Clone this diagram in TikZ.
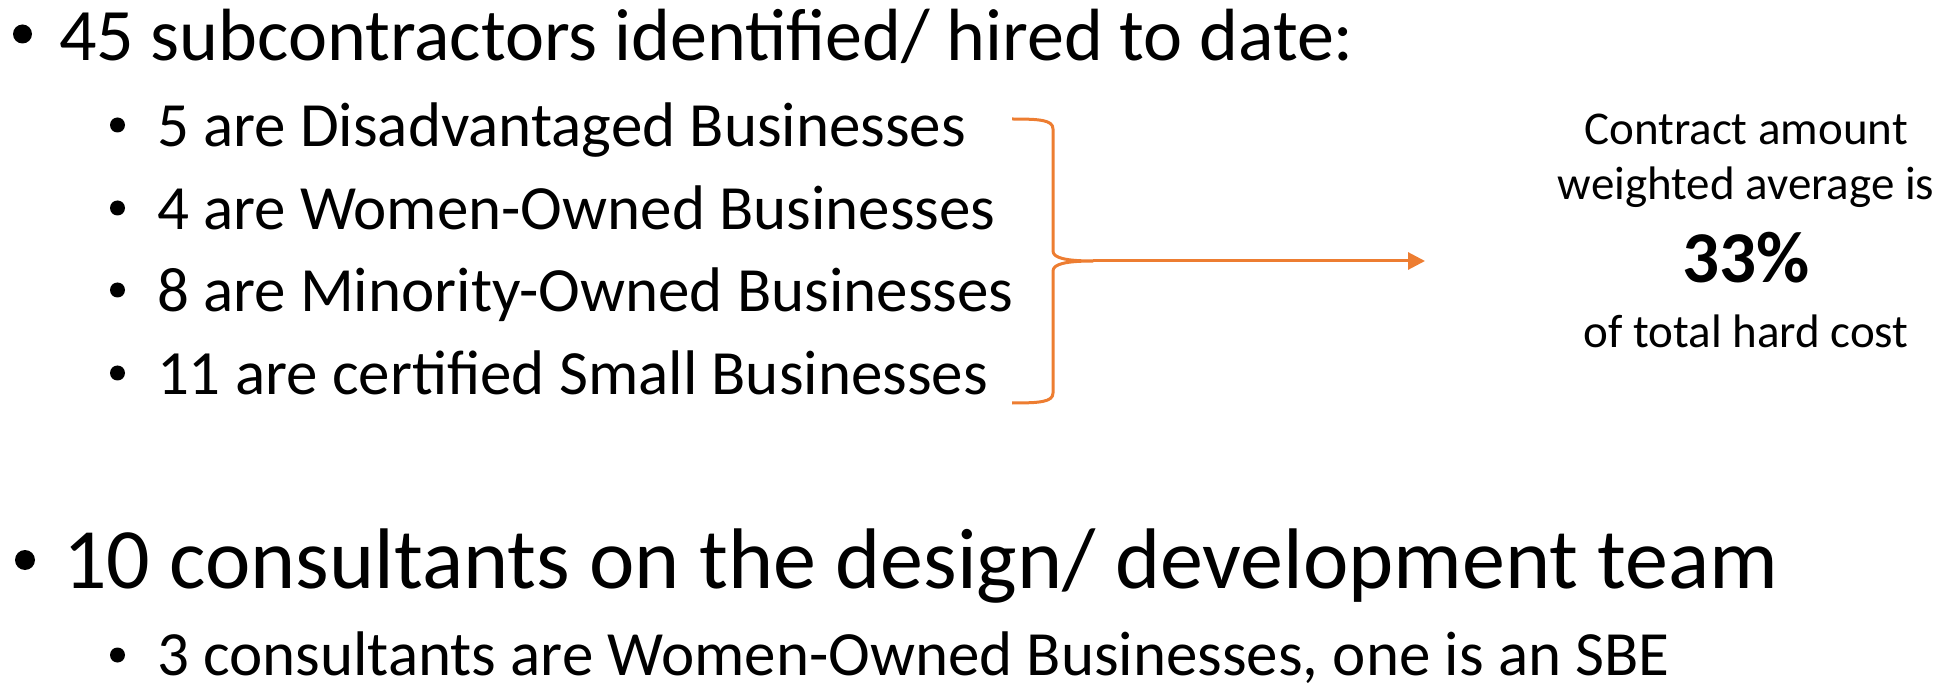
\documentclass[tikz,border=0pt]{standalone}
\usepackage{fontspec}
\setmainfont{Carlito}
\usetikzlibrary{arrows.meta}
\definecolor{accent}{HTML}{ED7D31}
\tikzset{
  txt/.style={anchor=base west, inner sep=0pt, outer sep=0pt},
  ctr/.style={anchor=base, inner sep=0pt, outer sep=0pt},
  lvlone/.style={txt, font=\fontsize{74}{80}\selectfont},
  lvlsub/.style={txt, font=\fontsize{63}{70}\selectfont},
  lvltwo/.style={txt, font=\fontsize{86}{92}\selectfont},
  side/.style={ctr, font=\fontsize{47}{52}\selectfont},
  big/.style={ctr, font=\fontsize{73}{78}\selectfont\bfseries},
  dotbig/.style={circle, fill=black, inner sep=0pt, minimum size=19pt},
  dothuge/.style={circle, fill=black, inner sep=0pt, minimum size=20pt},
  dotsmall/.style={circle, fill=black, inner sep=0pt, minimum size=15pt},
  bracepath/.style={draw=accent, line width=3pt, line join=round},
  arrowpath/.style={draw=accent, line width=3pt, -{Triangle[length=17pt,width=17pt]}}
}
\begin{document}
\begin{tikzpicture}[x=1pt,y=-1pt]
\useasboundingbox (0,0) rectangle (1946,684);
% level one
\node[dotbig] (b1) at (22.5,34) {};
\node[lvlone] (t1) at (59,61) {45 subcontractors identified/ hired to date:};
% sub bullets
\node[dotsmall] (sb1) at (117.5,125) {};
\node[lvlsub] (s1) at (157,147) {5 are Disadvantaged Businesses};
\node[dotsmall] (sb2) at (117.5,208) {};
\node[lvlsub] (s2) at (157,230) {4 are Women-Owned Businesses};
\node[dotsmall] (sb3) at (117.5,290) {};
\node[lvlsub] (s3) at (157,312) {8 are Minority-Owned Businesses};
\node[dotsmall] (sb4) at (117.5,373) {};
\node[lvlsub] (s4) at (157,395) {11 are certified Small Businesses};
% level two
\node[dothuge] (b2) at (25,560) {};
\node[lvltwo] (t2) at (63,588) {10 consultants on the design/ development team};
\node[dotsmall] (sb5) at (117.5,655) {};
\node[lvlsub] (s5) at (157,675) {3 consultants are Women-Owned Businesses, one is an SBE};
% right text
\node[side] (r1) at (1746,145) {Contract amount};
\node[side] (r2) at (1746,200) {weighted average is};
\node[big] (r3) at (1746,283) {33\%};
\node[side] (r4) at (1746,348) {of total hard cost};
% brace
\coordinate (btop) at (1012,119);
\coordinate (bbot) at (1012,403);
\coordinate (cusp) at (1093,261);
\coordinate (tip) at (1425,261);
\draw[bracepath] (btop) .. controls (1040,119) and (1053,120) .. (1053,129)
  -- (1053,251) .. controls (1053,258) and (1066,261) .. (cusp)
  .. controls (1066,261) and (1053,264) .. (1053,271)
  -- (1053,393) .. controls (1053,402) and (1040,403) .. (bbot);
\draw[arrowpath] (cusp) -- (tip);
\end{tikzpicture}
\end{document}
